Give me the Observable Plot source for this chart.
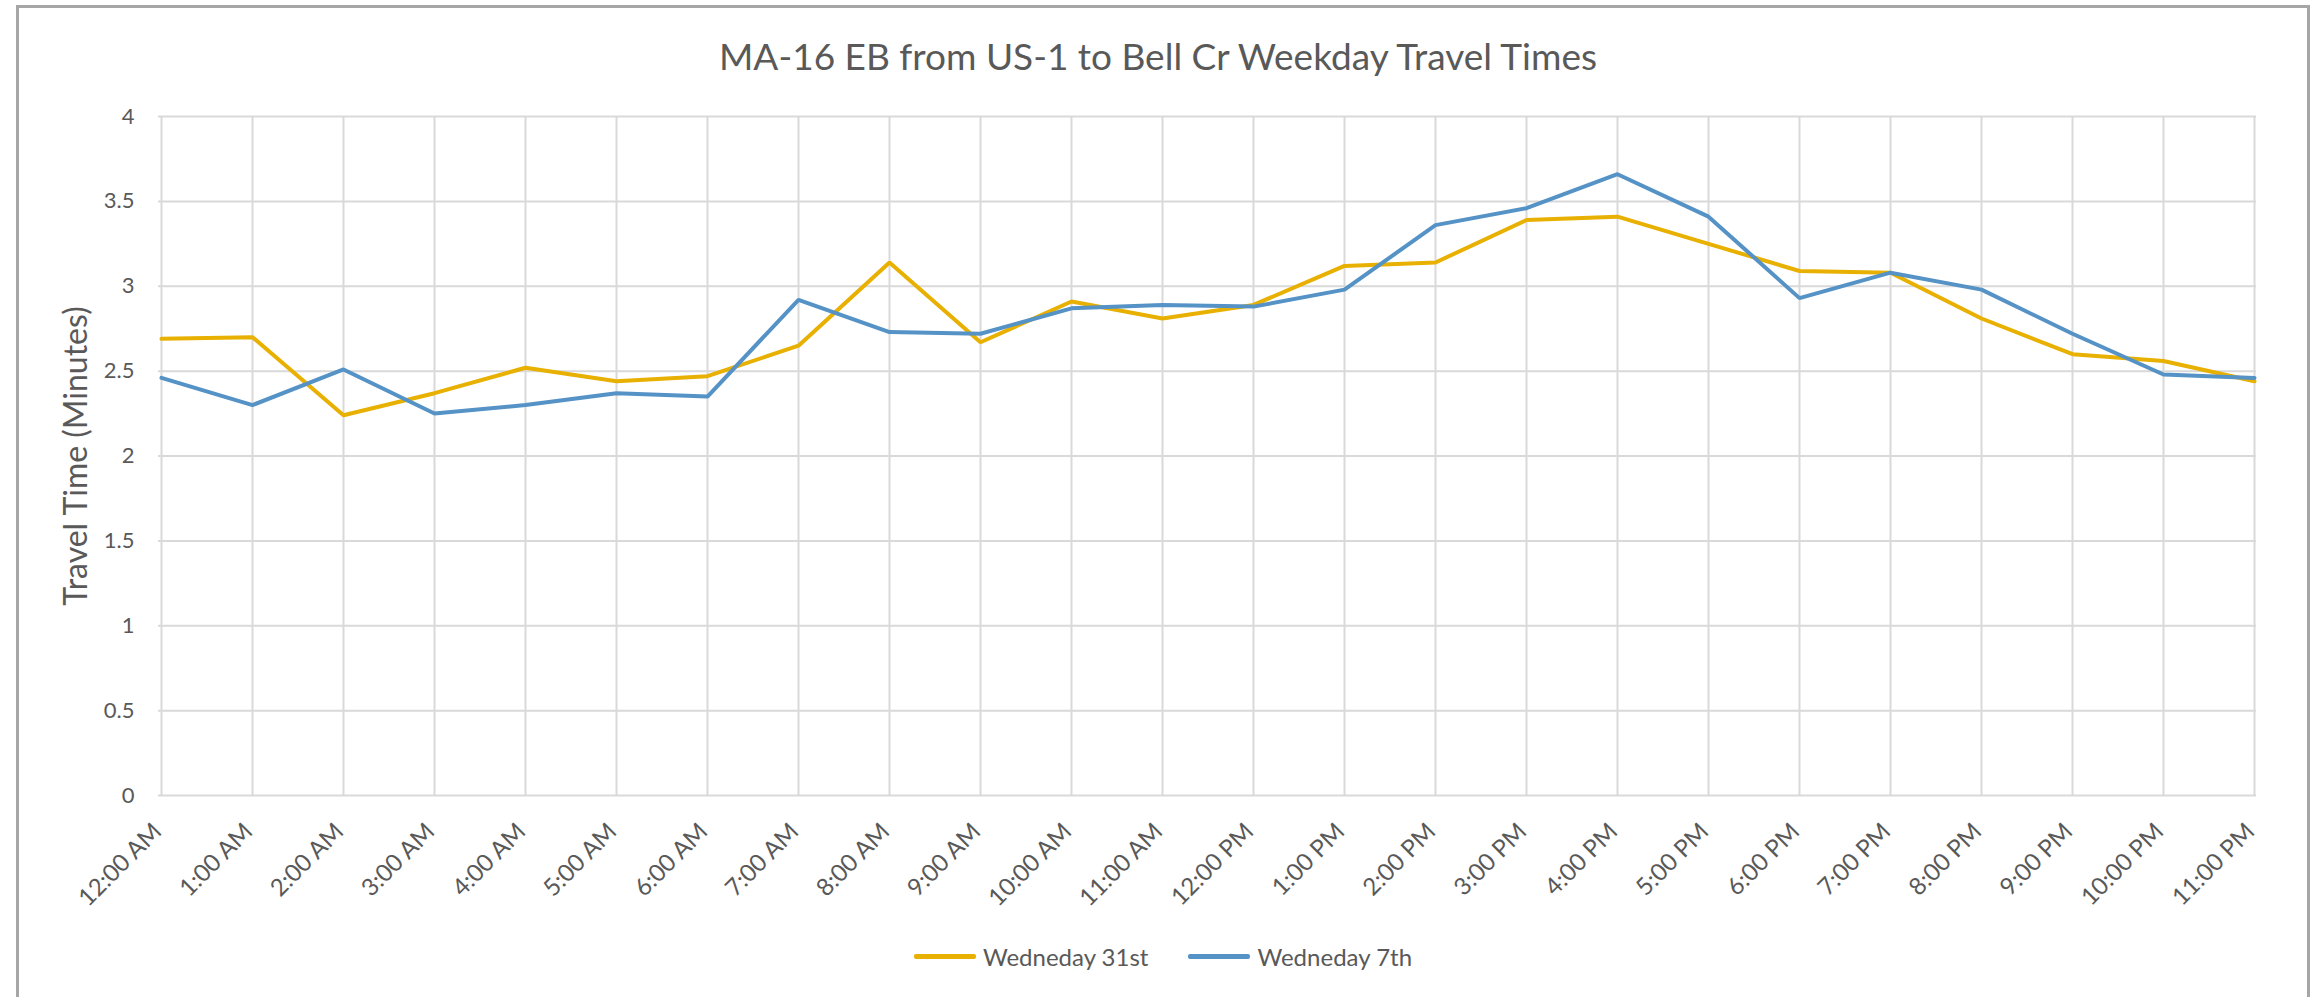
<!DOCTYPE html>
<html>
<head>
<meta charset="utf-8">
<script src="https://cdn.jsdelivr.net/npm/d3@7"></script>
<script src="https://cdn.jsdelivr.net/npm/@observablehq/plot@0.6"></script>
<style>
  html, body { margin: 0; padding: 0; background: #fff; }
  body { width: 2316px; height: 997px; overflow: hidden; position: relative; font-family: Lato, "Open Sans", sans-serif; color: #595959; }
  #frame { position: absolute; left: 16px; top: 5px; width: 2294px; height: 1100px; border: 3px solid #A6A6A6; box-sizing: border-box; pointer-events: none; }
  #title { height: 100px; line-height: 112px; text-align: center; font-size: 37px; color: #595959; }
  #legend { margin-top: 6px; height: 40px; display: flex; justify-content: center; align-items: center; font-size: 24px; padding-left: 10px; }
  .item { display: flex; align-items: center; margin: 0 20px; }
  .sw { width: 62px; height: 5px; border-radius: 2px; margin-right: 7px; }
</style>
</head>
<body>
<div id="frame"></div>
<div id="title">MA-16 EB from US-1 to Bell Cr Weekday Travel Times</div>
<div id="chart"></div>
<div id="legend"></div>
<script>
const hours = ["12:00 AM","1:00 AM","2:00 AM","3:00 AM","4:00 AM","5:00 AM","6:00 AM","7:00 AM","8:00 AM","9:00 AM","10:00 AM","11:00 AM",
               "12:00 PM","1:00 PM","2:00 PM","3:00 PM","4:00 PM","5:00 PM","6:00 PM","7:00 PM","8:00 PM","9:00 PM","10:00 PM","11:00 PM"];
const wed31 = [2.69, 2.70, 2.24, 2.37, 2.52, 2.44, 2.47, 2.65, 3.14, 2.67, 2.91, 2.81, 2.89, 3.12, 3.14, 3.39, 3.41, 3.25, 3.09, 3.08, 2.81, 2.60, 2.56, 2.44];
const wed7  = [2.46, 2.30, 2.51, 2.25, 2.30, 2.37, 2.35, 2.92, 2.73, 2.72, 2.87, 2.89, 2.88, 2.98, 3.36, 3.46, 3.66, 3.41, 2.93, 3.08, 2.98, 2.72, 2.48, 2.46];
const seriesNames = ["Wedneday 31st", "Wedneday 7th"];
const seriesColors = ["#E8B000", "#5592C6"];
const yTicks = [0, 0.5, 1, 1.5, 2, 2.5, 3, 3.5, 4];
const yLabel = "Travel Time (Minutes)";

const rows31 = hours.map((h, i) => ({hour: h, value: wed31[i]}));
const rows7 = hours.map((h, i) => ({hour: h, value: wed7[i]}));

const chart = Plot.plot({
  width: 2316,
  height: 830,
  marginTop: 16,
  marginBottom: 135,
  marginLeft: 158,
  marginRight: 60,
  style: {fontFamily: "Lato, sans-serif", color: "#595959", background: "transparent", overflow: "visible"},
  x: {type: "point", domain: hours, padding: 0},
  y: {domain: [0, 4]},
  marks: [
    Plot.gridY(yTicks, {stroke: "#D9D9D9", strokeOpacity: 1, strokeWidth: 2}),
    Plot.gridX(hours, {stroke: "#D9D9D9", strokeOpacity: 1, strokeWidth: 2}),
    Plot.axisY(yTicks, {tickSize: 0, tickPadding: 24, fontSize: 22, label: null, tickFormat: d => String(d)}),
    Plot.axisX(hours, {tickRotate: -45, tickSize: 0, tickPadding: 32, dx: -4, fontSize: 24, label: null}),
    Plot.line(rows31, {x: "hour", y: "value", stroke: seriesColors[0], strokeWidth: 4, strokeLinejoin: "miter"}),
    Plot.line(rows7, {x: "hour", y: "value", stroke: seriesColors[1], strokeWidth: 4, strokeLinejoin: "miter"}),
    Plot.text([yLabel], {frameAnchor: "left", textAnchor: "middle", dx: -82, rotate: -90, fontSize: 32, fill: "#595959"})
  ]
});
document.getElementById("chart").appendChild(chart);

const legend = document.getElementById("legend");
seriesNames.forEach((name, i) => {
  const item = document.createElement("div");
  item.className = "item";
  const sw = document.createElement("div");
  sw.className = "sw";
  sw.style.background = seriesColors[i];
  const t = document.createElement("span");
  t.textContent = name;
  item.appendChild(sw);
  item.appendChild(t);
  legend.appendChild(item);
});
</script>
</body>
</html>
